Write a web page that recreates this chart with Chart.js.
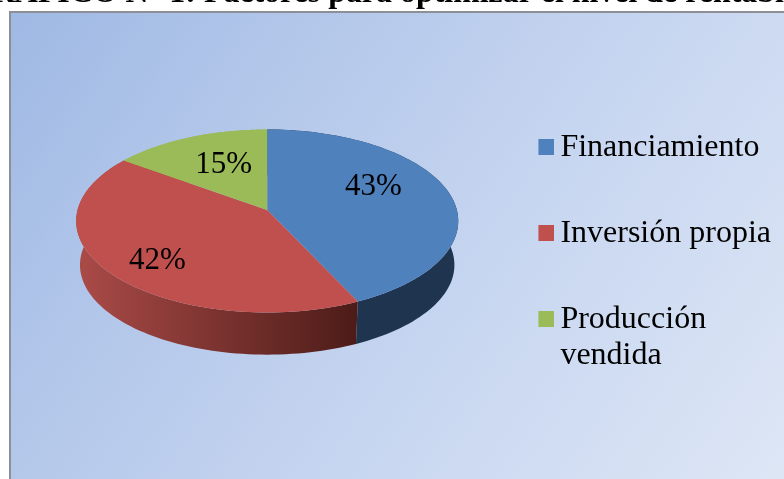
<!DOCTYPE html>
<html><head><meta charset="utf-8">
<style>
html,body{margin:0;padding:0;background:#fff;overflow:hidden}
#wrap{position:relative;width:784px;height:479px;overflow:hidden}
#bg{position:absolute;left:9px;top:11px;width:775px;height:468px;box-sizing:border-box;border-left:2px solid #8d8f96;border-top:2px solid #8d8f96;
background:linear-gradient(125deg,#9fb9e4 0%,#b3c7ea 28%,#c6d5f0 58%,#dde6f5 100%)}
canvas{position:absolute;left:0;top:0}
</style>
<script src="https://cdn.jsdelivr.net/npm/chart.js@4"></script>
</head><body><div id="wrap"><div id="bg"></div><canvas id="c" width="784" height="479"></canvas></div>
<script>
const titleText = "GRÁFICO N° 1: Factores para optimizar el nivel de rentabilidad";
const categories = ["Financiamiento", "Inversión propia", ["Producción", "vendida"]];
const values = [43, 42, 15];
const colors = ["#4f81bd", "#c0504d", "#9bbb59"];
const labelNudges = [[-3, -12], [-18, 15], [5, 0]];

const squash = 0.479, persp = -0.12, apexShift = -11, depth = 44, floorScale = 0.98;
function project(el, a, r, base) {
  const s = r * Math.sin(a), c = r * Math.cos(a), d = 1 + persp * s, R = el.outerRadius;
  const f = base ? floorScale : 1;
  return [el.x + f * 0.993 * R * c / d,
          el.y + (base ? depth : 0) + f * (R * squash * s + apexShift) / d];
}
function rimPath(ctx, el, base, reverse) {
  const n = 90;
  for (let i = 0; i <= n; i++) {
    const t = reverse ? 1 - i / n : i / n;
    const p = project(el, el.startAngle + (el.endAngle - el.startAngle) * t, 1, base);
    ctx.lineTo(p[0], p[1]);
  }
}
const swatches = colors.map(col => {
  const s = document.createElement("canvas"); s.width = 20; s.height = 16;
  const x = s.getContext("2d"); x.fillStyle = col; x.fillRect(4, 0, 16, 16); return s;
});
const tiltedPie = {
  id: "tiltedPie",
  afterLayout(chart) {
    chart.titleBlock.left = -33; chart.titleBlock.right = 853;
    chart.legend.top += 48; chart.legend.bottom += 48;
    chart.legend.left -= 3; chart.legend.right -= 3;
  },
  beforeDatasetDraw(chart, args) {
    const ctx = chart.ctx, arcs = chart.getDatasetMeta(args.index).data;
    const el0 = arcs[0];
    const red = ctx.createLinearGradient(el0.x - el0.outerRadius, 0, el0.x + 88, 0);
    red.addColorStop(0, "#ab4b48"); red.addColorStop(1, "#4d1c18");
    const walls = ["#1f344f", red, "#9bbb59"];
    [2, 0, 1].forEach(i => {
      const el = arcs[i];
      ctx.beginPath(); rimPath(ctx, el, false, false); rimPath(ctx, el, true, true); ctx.closePath();
      ctx.fillStyle = walls[i]; ctx.fill();
    });
    arcs.forEach((el, i) => {
      const apex = project(el, 0, 0, false);
      ctx.beginPath(); ctx.moveTo(apex[0], apex[1]); rimPath(ctx, el, false, false); ctx.closePath();
      ctx.fillStyle = colors[i]; ctx.fill();
    });
    ctx.fillStyle = "#000"; ctx.font = "31px 'Liberation Serif'";
    ctx.textAlign = "center"; ctx.textBaseline = "middle";
    arcs.forEach((el, i) => {
      const p = project(el, (el.startAngle + el.endAngle) / 2, 0.6, false);
      ctx.fillText(values[i] + "%", p[0] + labelNudges[i][0], p[1] + labelNudges[i][1]);
    });
    return false;
  }
};
new Chart(document.getElementById("c"), {
  type: "pie",
  data: { labels: categories, datasets: [{ data: values, backgroundColor: colors, borderWidth: 0 }] },
  plugins: [tiltedPie],
  options: {
    responsive: false, animation: false,
    layout: { padding: { left: 41, right: 0, top: 0, bottom: 67 } },
    plugins: {
      tooltip: { enabled: false },
      title: { display: true, text: titleText, color: "#000",
        font: { family: "'Liberation Serif'", size: 32, weight: "bold", lineHeight: 1 },
        padding: { top: -22, bottom: 20 } },
      legend: { display: true, position: "right",
        labels: { color: "#000", usePointStyle: true, pointStyleWidth: 0.01, boxHeight: 16, padding: 54,
          font: { family: "'Liberation Serif'", size: 32, lineHeight: 1.15 },
          generateLabels: c => categories.map((t, i) => ({ text: t, fillStyle: colors[i], strokeStyle: colors[i], lineWidth: 0, pointStyle: swatches[i], index: i, fontColor: "#000" })) } }
    }
  }
});
</script></body></html>
